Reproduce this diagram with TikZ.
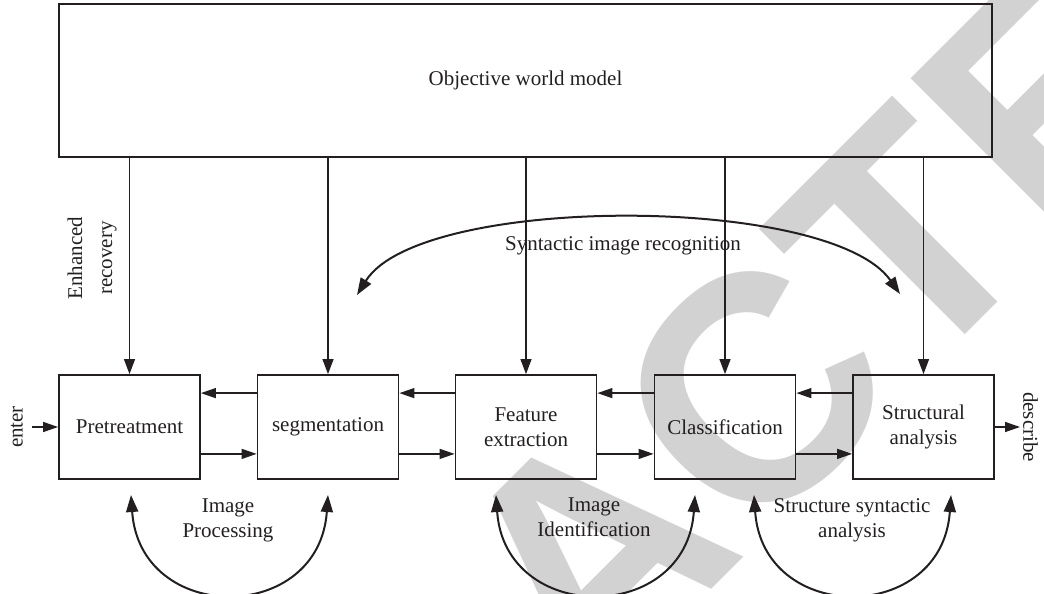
\documentclass[tikz,border=0pt]{standalone}
\usepackage{fontspec}
\setmainfont{Liberation Serif}
\newfontfamily\wmfont{Liberation Sans}
\usetikzlibrary{arrows.meta}
\definecolor{ink}{RGB}{35,31,32}
\definecolor{wmgray}{RGB}{210,210,210}
\begin{document}
\begin{tikzpicture}[x=1pt,y=-1pt,
  font=\fontsize{21}{25}\selectfont,
  blk/.style={draw=ink,line width=1.8pt,minimum width=141pt,minimum height=104pt,inner sep=0pt,align=center,text=ink},
  conn/.style={draw=ink,line width=1.2pt,-{Triangle[length=15pt,width=11pt]}},
  harr/.style={draw=ink,line width=1.4pt,-{Triangle[length=15pt,width=10pt]}},
  cyc/.style={draw=ink,line width=2pt,{Triangle[length=17pt,width=12pt]}-{Triangle[length=17pt,width=12pt]}},
  lbl/.style={align=center,inner sep=0pt,text=ink},
]
\useasboundingbox (0,0) rectangle (1044,594);
% watermark
\begin{scope}
  \clip (0,0) rectangle (1044,594);
  \node[rotate=45, text=wmgray, inner sep=0pt,
        font=\wmfont\bfseries\fontsize{320}{320}\selectfont] (wmark) at (590,555) {RETRACTED};
\end{scope}
% top box
\node[draw=ink,line width=1.8pt,minimum width=933pt,minimum height=153pt,inner sep=0pt,text=ink] (world) at (525.5,80.5) {Objective world model};
% blocks
\node[blk] (pre) at (129.5,427) {Pretreatment};
\node[blk] (seg) at (328,427) {segmentation};
\node[blk] (fea) at (526,427) {Feature\\extraction};
\node[blk] (cls) at (725,427) {Classification};
\node[blk] (str) at (923.5,427) {Structural\\analysis};
% vertical arrows
\foreach \n in {pre,seg,fea,cls,str}
  \draw[conn] (\n |- world.south) -- (\n.north);
% horizontal arrows
\foreach \a/\b in {pre/seg,seg/fea,fea/cls,cls/str}{
  \draw[harr] ([yshift=-19pt]\b.north west) -- ([yshift=-19pt]\a.north east);
  \draw[harr] ([yshift=26pt]\a.south east) -- ([yshift=26pt]\b.south west);
}
% enter / describe
\node[rotate=90, anchor=south, inner sep=0pt, text=ink] (enter) at (23,427) {enter};
\draw[harr, shorten <=9pt] (enter.south) -- (pre.west);
\node[rotate=-90, anchor=south, inner sep=0pt, text=ink] (desc) at (1023,427) {describe};
\draw[harr, shorten >=3pt] (str.east) -- (desc.south);
% enhanced recovery
\node[rotate=90, lbl, font=\fontsize{21}{30}\selectfont] (enh) at (92,258) {Enhanced\\recovery};
% syntactic arc
\coordinate (s1) at (357,295);
\coordinate (s2) at (900,294);
\draw[cyc] (s1) .. controls (420,194) and (830,194) .. (s2);
\node[lbl] (sir) at (623,246) {Syntactic image recognition};
% bottom arcs
\coordinate (a1) at (131,495); \coordinate (a2) at (328,495);
\coordinate (a3) at (496,495); \coordinate (a4) at (695,495);
\coordinate (a5) at (754,495); \coordinate (a6) at (951,495);
\draw[cyc] (a1) .. controls (140,625) and (319,625) .. (a2);
\draw[cyc] (a3) .. controls (505,625) and (686,625) .. (a4);
\draw[cyc] (a5) .. controls (763,625) and (942,625) .. (a6);
\node[lbl] (ip) at (228,520) {Image\\Processing};
\node[lbl] (ii) at (594,517.5) {Image\\Identification};
\node[lbl] (ssa) at (852,520) {Structure syntactic\\analysis};
\end{tikzpicture}
\end{document}
